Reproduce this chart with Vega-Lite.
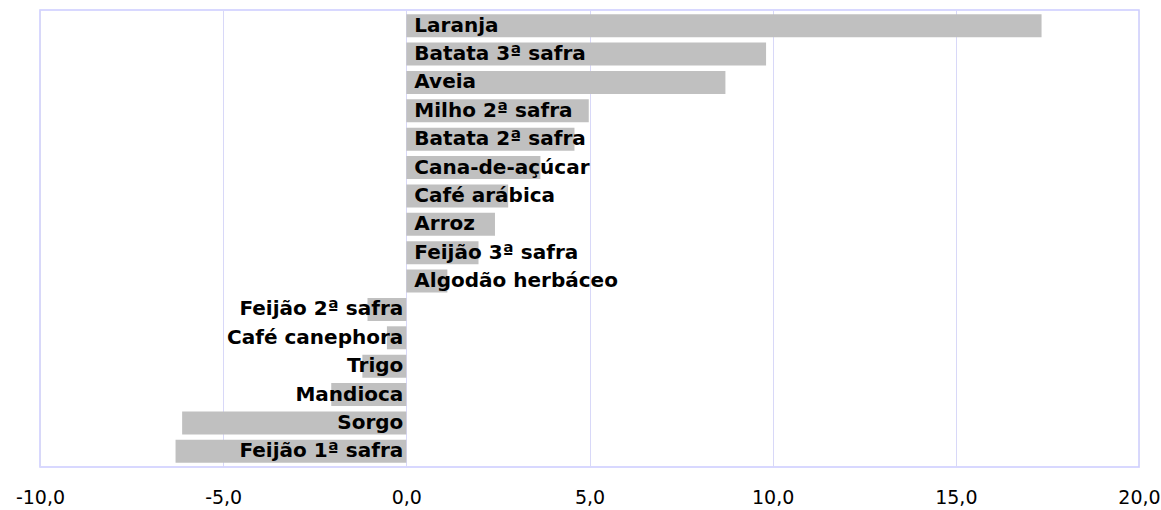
{
  "$schema": "https://vega.github.io/schema/vega-lite/v6.json",
  "autosize": "none",
  "width": 1099,
  "height": 457,
  "padding": {"left": 40, "top": 10, "right": 22, "bottom": 43},
  "background": "white",
  "config": {"view": {"stroke": "#ccccff", "strokeWidth": 1.5}},
  "data": {"values": [
    {"cultura": "Laranja", "valor": 17.34},
    {"cultura": "Batata 3ª safra", "valor": 9.82},
    {"cultura": "Aveia", "valor": 8.71},
    {"cultura": "Milho 2ª safra", "valor": 4.98},
    {"cultura": "Batata 2ª safra", "valor": 4.59},
    {"cultura": "Cana-de-açúcar", "valor": 3.66},
    {"cultura": "Café arábica", "valor": 2.78},
    {"cultura": "Arroz", "valor": 2.42},
    {"cultura": "Feijão 3ª safra", "valor": 1.97},
    {"cultura": "Algodão herbáceo", "valor": 1.12},
    {"cultura": "Feijão 2ª safra", "valor": -1.06},
    {"cultura": "Café canephora", "valor": -0.53},
    {"cultura": "Trigo", "valor": -1.2},
    {"cultura": "Mandioca", "valor": -2.05},
    {"cultura": "Sorgo", "valor": -6.12},
    {"cultura": "Feijão 1ª safra", "valor": -6.3}
  ]},
  "encoding": {
    "y": {"field": "cultura", "type": "nominal", "sort": null, "axis": null,
      "scale": {"paddingInner": 0.19, "paddingOuter": 0.15}},
    "x": {"field": "valor", "type": "quantitative",
      "scale": {"domain": [-10, 20], "nice": false, "zero": false},
      "axis": {"title": null, "values": [-10, -5, 0, 5, 10, 15, 20], "grid": true,
        "gridColor": "#d8d8f8", "gridWidth": 1, "domain": false, "ticks": false,
        "labelPadding": 21, "labelFont": "DejaVu Sans", "labelFontSize": 19,
        "labelColor": "#000000", "labelFlush": false, "labelOverlap": false,
        "labelExpr": "replace(replace(format(datum.value, '.1f'), '.', ','), '\u2212', '-')"}}
  },
  "layer": [
    {"mark": {"type": "bar", "color": "#c0c0c0"}},
    {"transform": [{"filter": "datum.valor >= 0"}],
      "mark": {"type": "text", "align": "left", "baseline": "middle", "dx": 8,
        "font": "DejaVu Sans", "fontWeight": "bold", "fontSize": 20, "color": "#000000"},
      "encoding": {"x": {"datum": 0, "type": "quantitative"}, "text": {"field": "cultura"}}},
    {"transform": [{"filter": "datum.valor < 0"}],
      "mark": {"type": "text", "align": "right", "baseline": "middle", "dx": -3,
        "font": "DejaVu Sans", "fontWeight": "bold", "fontSize": 20, "color": "#000000"},
      "encoding": {"x": {"datum": 0, "type": "quantitative"}, "text": {"field": "cultura"}}}
  ]
}
